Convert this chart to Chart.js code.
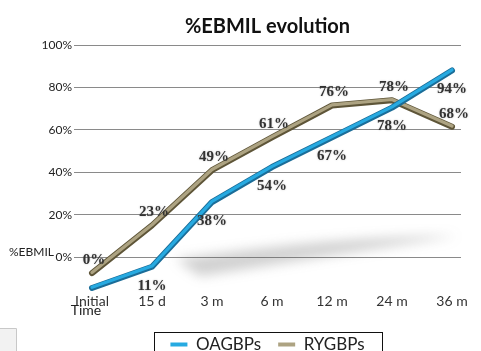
<!DOCTYPE html>
<html>
<head>
<meta charset="utf-8">
<script src="https://cdn.jsdelivr.net/npm/chart.js@4"></script>
<style>
  html, body { margin: 0; padding: 0; background: #fff; }
</style>
</head>
<body>
<canvas id="myChart" width="481" height="351"></canvas>
<script>
const timeLabels = ['Initial', '15 d', '3 m', '6 m', '12 m', '24 m', '36 m'];
const seriesNames = ['OAGBPs', 'RYGBPs'];
// values printed next to the lines
const oagbpValues = [0, 11, 38, 54, 67, 78, 94];
const rygbpValues = [0, 23, 49, 61, 76, 78, 68];
// where the (3D, shifted) lines actually sit against the % axis
const oagbpPlotted = [-14.5, -4.5, 26, 42.5, 56.5, 70.5, 88];
const rygbpPlotted = [-7.5, 15, 41, 56.5, 71.5, 74, 61.5];
const yTicks = [0, 20, 40, 60, 80, 100];
const chartTitle = '%EBMIL evolution';
const yTitle = '%EBMIL';
const xTitle = 'Time';

const pts = arr => arr.map((v, i) => ({ x: i, y: v }));

// lighter face stroke on top of the darker edge, so the lines look like tubes
const tubePlugin = {
  id: 'tube',
  beforeDatasetsDraw(chart) {
    // soft grey shadow under the lines
    const ctx = chart.ctx, xs = chart.scales.x, ys = chart.scales.y;
    ctx.save();
    ctx.filter = 'blur(6px)';
    ctx.fillStyle = 'rgba(90,90,90,0.28)';
    ctx.beginPath();
    ctx.moveTo(xs.getPixelForValue(1.4), ys.getPixelForValue(-1));
    ctx.quadraticCurveTo(xs.getPixelForValue(4), ys.getPixelForValue(10), xs.getPixelForValue(6.1), ys.getPixelForValue(10));
    ctx.quadraticCurveTo(xs.getPixelForValue(4), ys.getPixelForValue(1), xs.getPixelForValue(1.8), ys.getPixelForValue(-9));
    ctx.closePath();
    ctx.fill();
    ctx.restore();
  },
  afterDatasetDraw(chart, args) {
    const ctx = chart.ctx;
    const ds = chart.data.datasets[args.index];
    const p = args.meta.data;
    ctx.save();
    ctx.strokeStyle = ds.faceColor;
    ctx.lineWidth = 3.2;
    ctx.lineJoin = 'round';
    ctx.lineCap = 'round';
    ctx.beginPath();
    p.forEach((pt, i) => i ? ctx.lineTo(pt.x, pt.y - 0.7) : ctx.moveTo(pt.x, pt.y - 0.7));
    ctx.stroke();
    ctx.restore();
  },
  afterDatasetsDraw(chart) {
    const ctx = chart.ctx;
    ctx.save();
    ctx.font = 'bold 15px "Liberation Serif"';
    ctx.textAlign = 'center';
    ctx.textBaseline = 'middle';
    ctx.fillStyle = '#333';
    ctx.shadowColor = 'rgba(0,0,0,0.25)';
    ctx.shadowBlur = 2;
    chart.data.datasets.forEach((ds, di) => {
      chart.getDatasetMeta(di).data.forEach((pt, i) => {
        // both series start at 0%, the reference prints it once
        if (di === 0 && i === 0) return;
        ctx.fillText(ds.printed[i] + '%', pt.x + ds.labelDx, pt.y + ds.labelDy);
      });
    });
    ctx.restore();
  },
  afterDraw(chart) {
    const ctx = chart.ctx, ys = chart.scales.y, xs = chart.scales.x;
    ctx.save();
    ctx.fillStyle = '#222';
    ctx.font = '12px Lato';
    ctx.textBaseline = 'middle';
    ctx.textAlign = 'left';
    ctx.fillText(yTitle, 9, ys.getPixelForValue(0) - 5);
    ctx.font = '14px Lato';
    ctx.textAlign = 'center';
    ctx.fillText(xTitle, xs.getPixelForValue(0) - 6, xs.top + 19);

    // frame around the legend
    const boxes = chart.legend.legendHitBoxes;
    if (boxes.length) {
      const l = boxes[0].left - 16;
      const r = boxes[boxes.length - 1].left + boxes[boxes.length - 1].width + 18;
      const t = boxes[0].top - 4;
      ctx.strokeStyle = '#111';
      ctx.lineWidth = 1;
      ctx.strokeRect(Math.round(l) + 0.5, Math.round(t) + 0.5, Math.round(r - l), 40);
    }
    // little grey box in the bottom-left corner
    ctx.fillStyle = '#f2f2f2';
    ctx.fillRect(0, 328, 16, 23);
    ctx.strokeStyle = '#c8c8c8';
    ctx.beginPath();
    ctx.moveTo(0, 328.5); ctx.lineTo(16.5, 328.5); ctx.lineTo(16.5, 351);
    ctx.stroke();
    ctx.restore();
  }
};

const ctx = document.getElementById('myChart').getContext('2d');
new Chart(ctx, {
  type: 'line',
  data: {
    datasets: [{
      label: seriesNames[0],
      data: pts(oagbpPlotted),
      printed: oagbpValues,
      borderColor: '#1b6d98',
      faceColor: '#27aae1',
      borderWidth: 6,
      labelDx: 0,
      labelDy: 19
    }, {
      label: seriesNames[1],
      data: pts(rygbpPlotted),
      printed: rygbpValues,
      borderColor: '#5e5538',
      faceColor: '#ada382',
      borderWidth: 6,
      labelDx: 2,
      labelDy: -13
    }]
  },
  options: {
    responsive: false,
    animation: false,
    layout: { padding: { left: 0, right: 20, top: 0, bottom: -12 } },
    elements: {
      line: { tension: 0, borderJoinStyle: 'round', borderCapStyle: 'round', fill: false },
      point: { radius: 0 }
    },
    clip: false,
    scales: {
      x: {
        type: 'linear',
        min: -0.3,
        max: 6.15,
        grid: { display: false, drawTicks: false },
        border: { display: false },
        afterBuildTicks: scale => { scale.ticks = timeLabels.map((_, i) => ({ value: i })); },
        afterFit: scale => { scale.height += 7; },
        ticks: {
          padding: 2,
          color: '#333',
          font: { family: 'Lato', size: 14 },
          maxRotation: 0,
          callback: v => timeLabels[v]
        }
      },
      y: {
        min: -16,
        max: 100,
        afterFit: scale => { scale.width = 74; },
        afterBuildTicks: scale => { scale.ticks = yTicks.map(v => ({ value: v })); },
        grid: { color: '#8a8a8a', drawTicks: false },
        border: { display: false },
        ticks: {
          padding: 2,
          color: '#222',
          font: { family: 'Lato', size: 12 },
          callback: v => v + '%'
        }
      }
    },
    plugins: {
      title: {
        display: true,
        text: chartTitle,
        fullSize: false,
        color: '#111',
        font: { family: 'Lato', size: 20, weight: 'bold' },
        padding: { top: 15, bottom: 6 }
      },
      legend: {
        position: 'bottom',
        fullSize: false,
        labels: {
          boxWidth: 17,
          boxHeight: 4,
          padding: 17,
          color: '#222',
          font: { family: 'Lato', size: 17 },
          generateLabels: chart => Chart.defaults.plugins.legend.labels.generateLabels(chart)
            .map((item, i) => ({ ...item, fillStyle: chart.data.datasets[i].faceColor, lineWidth: 0, strokeStyle: 'rgba(0,0,0,0)' }))
        }
      },
      tooltip: { enabled: false }
    }
  },
  plugins: [tubePlugin]
});
</script>
</body>
</html>
